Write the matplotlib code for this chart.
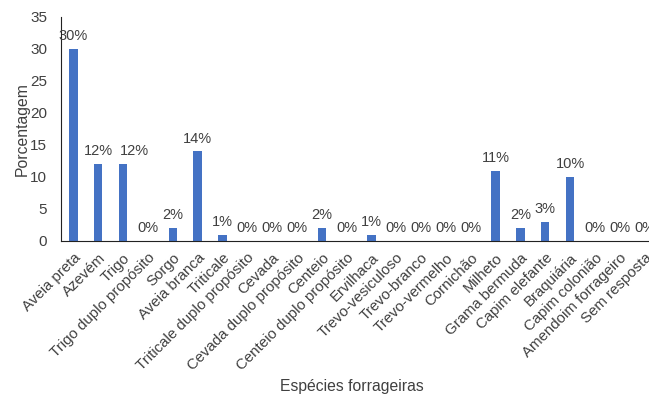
import numpy as np
import matplotlib.pyplot as plt

plt.rcParams['font.family'] = ['Liberation Sans', 'DejaVu Sans']

especies = ['Aveia preta', 'Azevém', 'Trigo', 'Trigo duplo propósito', 'Sorgo',
            'Aveia branca', 'Triticale', 'Triticale duplo propósito', 'Cevada',
            'Cevada duplo propósito', 'Centeio', 'Centeio duplo propósito', 'Ervilhaca',
            'Trevo-vesiculoso', 'Trevo-branco', 'Trevo-vermelho', 'Cornichão', 'Milheto',
            'Grama bermuda', 'Capim elefante', 'Braquiária', 'Capim colonião',
            'Amendoim forrageiro', 'Sem resposta']
porcentagem = [30, 12, 12, 0, 2, 14, 1, 0, 0, 0, 2, 0, 1, 0, 0, 0, 0, 11, 2, 3, 10, 0, 0, 0]

# o Excel empurrou o rotulo do Trigo um pouco para a direita
desloc = {2: 0.45}

cinza = '#404040'
fig = plt.figure(figsize=(6.49, 3.94), dpi=100)
ax = fig.add_axes([61/649, 1 - 241/394, 596/649, 224/394])
x = np.arange(len(especies))
ax.bar(x, porcentagem, width=0.33, color='#4472C4')
for i, v in enumerate(porcentagem):
    ax.text(x[i] + desloc.get(i, 0), v + 0.9, f'{v}%', ha='center', va='bottom',
            fontsize=10.5, color=cinza)

ax.set_xlim(-0.5, len(especies) - 0.5)
ax.set_ylim(0, 35)
ax.set_yticks(range(0, 36, 5))
ax.set_xticks(x)
ax.set_xticklabels(especies, rotation=45, ha='right', rotation_mode='anchor',
                   fontsize=10.8, color=cinza)
ax.tick_params(axis='y', length=0, labelsize=11, labelcolor=cinza, pad=10)
ax.tick_params(axis='x', length=0, pad=7)
ax.spines['right'].set_visible(False)
ax.spines['top'].set_visible(False)
ax.spines['left'].set_color('#222222')
ax.spines['bottom'].set_color('#222222')
ax.set_ylabel('Porcentagem', fontsize=11.3, color=cinza, labelpad=0)
fig.text(352/649, 1 - 386/394, 'Espécies forrageiras', ha='center', va='center',
         fontsize=11.3, color=cinza)
plt.savefig('out.png', dpi=100)
